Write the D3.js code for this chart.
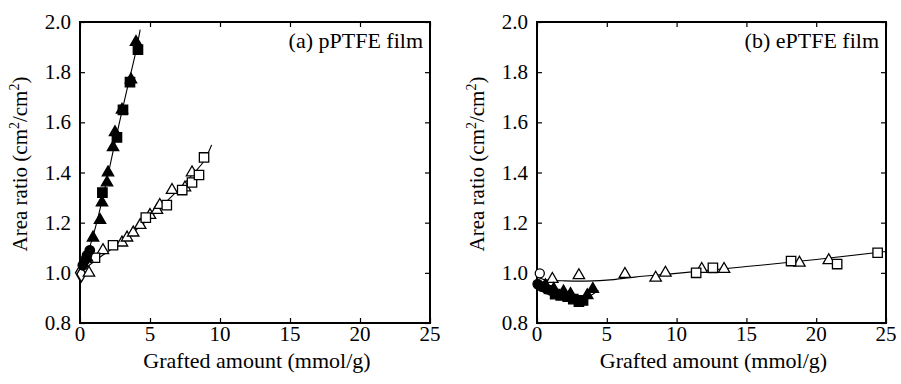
<!DOCTYPE html>
<html>
<head>
<meta charset="utf-8">
<title>Area ratio vs grafted amount</title>
<script src="https://d3js.org/d3.v7.min.js"></script>
<style>
	body { margin: 0; background: #fff; }
	text { font-family: "Liberation Serif", "Times New Roman", serif; fill: #000; }
</style>
</head>
<body>
<svg id="chart" width="901" height="384"></svg>
<script>
// ---- data ----
var xTicks = [0, 5, 10, 15, 20, 25];
var yTicks = [0.8, 1.0, 1.2, 1.4, 1.6, 1.8, 2.0];

// (a) pPTFE film
var aFilledTri = [[0.5,1.06],[0.93,1.14],[1.43,1.21],[1.57,1.28],[1.93,1.36],[2.0,1.40],[2.36,1.50],[2.5,1.56],[3.0,1.65],[3.64,1.77],[4.0,1.92]];
var aFilledSq = [[1.6,1.32],[2.64,1.54],[3.07,1.65],[3.57,1.76],[4.14,1.89]];
var aFilledCirc = [[0.2,1.03],[0.35,1.05],[0.5,1.07],[0.7,1.09]];
var aOpenCirc = [[0,1.0],[0.1,0.995]];
var aOpenTri = [[0.64,1.0],[1.64,1.09],[3.0,1.12],[3.36,1.14],[3.8,1.16],[4.3,1.19],[5.0,1.23],[5.5,1.25],[5.7,1.27],[6.57,1.33],[7.5,1.34],[8.0,1.40]];
var aOpenSq = [[1.07,1.06],[2.36,1.11],[4.7,1.22],[6.2,1.27],[7.3,1.33],[8.0,1.36],[8.5,1.39],[8.86,1.46]];
var aFitFilled = [[0,1.0],[0.5,1.07],[1,1.16],[1.5,1.27],[2,1.39],[2.5,1.52],[3,1.645],[3.5,1.765],[4,1.885],[4.3,1.97]];
var aFitOpen = [[0,1.0],[1,1.045],[2,1.085],[3,1.125],[4,1.17],[5,1.22],[6,1.275],[7,1.33],[8,1.39],[9,1.46],[9.4,1.51]];

// (b) ePTFE film
var bOpenTri = [[1.1,0.975],[3.0,0.99],[6.3,0.995],[8.5,0.98],[9.2,1.0],[11.8,1.015],[13.4,1.015],[18.8,1.04],[20.9,1.05]];
var bOpenSq = [[11.4,1.0],[12.6,1.02],[18.2,1.047],[21.5,1.035],[24.4,1.08]];
var bOpenCirc = [[0.2,0.998]];
var bFilledCirc = [[0.05,0.955],[0.35,0.945],[0.7,0.935],[1.0,0.93]];
var bFilledSq = [[1.3,0.915],[1.7,0.91],[2.2,0.905],[2.6,0.895],[3.0,0.885],[3.3,0.89]];
var bFilledTri = [[0.6,0.95],[1.2,0.935],[1.9,0.925],[2.4,0.915],[3.6,0.91],[4.0,0.935]];
var bFitOpen = [[0,0.985],[0.5,0.973],[1,0.97],[2,0.968],[3,0.967],[4,0.968],[5,0.971],[7,0.983],[10,0.998],[15,1.025],[20,1.053],[25,1.085]];
var bFitFilled = [[0,0.96],[0.5,0.945],[1,0.93],[1.5,0.918],[2,0.908],[2.5,0.9],[3,0.897],[3.5,0.902],[4,0.915],[4.4,0.93]];

var svg = d3.select("#chart");

function drawPanel(opt) {
	var x = d3.scaleLinear().domain([0, 25]).range([opt.left, opt.right]);
	var y = d3.scaleLinear().domain([0.8, 2.0]).range([323, 22]);
	var g = svg.append("g");

	// inward ticks on all four sides
	g.append("g").attr("transform", "translate(0,323)")
		.call(d3.axisBottom(x).tickValues(xTicks).tickSize(-5).tickFormat(""));
	g.append("g").attr("transform", "translate(0,22)")
		.call(d3.axisTop(x).tickValues(xTicks).tickSize(-5).tickFormat(""));
	g.append("g").attr("transform", "translate(" + opt.left + ",0)")
		.call(d3.axisLeft(y).tickValues(yTicks).tickSize(-5).tickFormat(""));
	g.append("g").attr("transform", "translate(" + opt.right + ",0)")
		.call(d3.axisRight(y).tickValues(yTicks).tickSize(-5).tickFormat(""));
	g.selectAll(".domain").remove();
	g.selectAll(".tick line").attr("stroke", "#000").attr("stroke-width", 1.2);

	g.append("rect")
		.attr("x", opt.left).attr("y", 22)
		.attr("width", opt.right - opt.left).attr("height", 301)
		.attr("fill", "none").attr("stroke", "#000").attr("stroke-width", 2);

	// tick labels
	g.selectAll(".xl").data(xTicks).enter().append("text")
		.attr("x", function (d) { return x(d); })
		.attr("y", 341)
		.attr("text-anchor", "middle")
		.attr("font-size", "21px")
		.text(function (d) { return d; });
	g.selectAll(".yl").data(yTicks).enter().append("text")
		.attr("x", opt.left - 9)
		.attr("y", function (d) { return y(d) + 7; })
		.attr("text-anchor", "end")
		.attr("font-size", "21px")
		.text(function (d) { return d.toFixed(1); });

	// axis titles
	g.append("text")
		.attr("x", (opt.left + opt.right) / 2 + 2)
		.attr("y", 368)
		.attr("text-anchor", "middle")
		.attr("font-size", "22px")
		.text("Grafted amount (mmol/g)");
	var yt = g.append("text")
		.attr("transform", "translate(" + (opt.left - 53) + ",164) rotate(-90)")
		.attr("text-anchor", "middle")
		.attr("font-size", "21px");
	yt.append("tspan").text("Area ratio (cm");
	yt.append("tspan").attr("dy", -8).attr("font-size", "14px").text("2");
	yt.append("tspan").attr("dy", 8).text("/cm");
	yt.append("tspan").attr("dy", -8).attr("font-size", "14px").text("2");
	yt.append("tspan").attr("dy", 8).text(")");

	g.append("text")
		.attr("x", opt.right - 7)
		.attr("y", 48)
		.attr("text-anchor", "end")
		.attr("font-size", "22px")
		.text(opt.label);

	// fitted curves
	var line = d3.line()
		.x(function (d) { return x(d[0]); })
		.y(function (d) { return y(d[1]); })
		.curve(d3.curveMonotoneX);
	opt.fits.forEach(function (f) {
		g.append("path").datum(f)
			.attr("d", line)
			.attr("fill", "none")
			.attr("stroke", "#000")
			.attr("stroke-width", 1.1);
	});

	// markers
	opt.series.forEach(function (s) {
		var sym = d3.symbol().type(s.type).size(s.size);
		g.selectAll(null).data(s.data).enter().append("path")
			.attr("transform", function (d) { return "translate(" + x(d[0]) + "," + y(d[1]) + ")"; })
			.attr("d", sym)
			.attr("fill", s.filled ? "#000" : "#fff")
			.attr("stroke", "#000")
			.attr("stroke-width", 1.3);
	});
}

drawPanel({
	left: 80, right: 430, label: "(a) pPTFE film",
	fits: [aFitFilled, aFitOpen],
	series: [
		{ data: aOpenCirc, type: d3.symbolDiamond, size: 70, filled: false },
		{ data: aOpenTri, type: d3.symbolTriangle, size: 56, filled: false },
		{ data: aOpenSq, type: d3.symbolSquare, size: 88, filled: false },
		{ data: aFilledCirc, type: d3.symbolCircle, size: 70, filled: true },
		{ data: aFilledTri, type: d3.symbolTriangle, size: 56, filled: true },
		{ data: aFilledSq, type: d3.symbolSquare, size: 88, filled: true }
	]
});

drawPanel({
	left: 537, right: 886, label: "(b) ePTFE film",
	fits: [bFitOpen, bFitFilled],
	series: [
		{ data: bOpenTri, type: d3.symbolTriangle, size: 56, filled: false },
		{ data: bOpenSq, type: d3.symbolSquare, size: 88, filled: false },
		{ data: bFilledCirc, type: d3.symbolCircle, size: 70, filled: true },
		{ data: bFilledSq, type: d3.symbolSquare, size: 88, filled: true },
		{ data: bFilledTri, type: d3.symbolTriangle, size: 56, filled: true },
		{ data: bOpenCirc, type: d3.symbolCircle, size: 65, filled: false }
	]
});
</script>
</body>
</html>
